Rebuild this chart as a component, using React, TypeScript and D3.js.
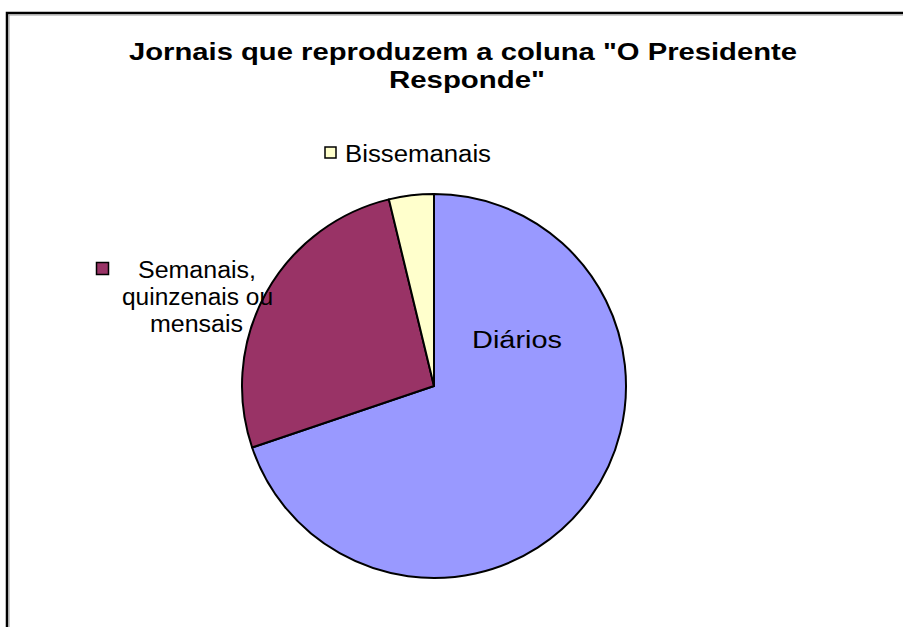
import React from "react";
import * as d3 from "d3";

// Chart data
const categories = ["Diários", "Semanais, quinzenais ou mensais", "Bissemanais"];
const values = [74, 28, 4];
const colors = ["#9999FF", "#993366", "#FFFFCC"];

const titleLines = ['Jornais que reproduzem a coluna "O Presidente', 'Responde"'];

const W = 903;
const H = 627;
const cx = 434;
const cy = 386;
const radius = 192;
const font = "'Liberation Sans', Arial, sans-serif";
const labelSize = 23;

interface Slice {
  name: string;
  value: number;
  color: string;
}

export default function App() {
  const data: Slice[] = categories.map((name, i) => ({
    name,
    value: values[i],
    color: colors[i],
  }));

  const pie = d3
    .pie<Slice>()
    .sort(null)
    .value((d) => d.value)
    .startAngle(0)
    .endAngle(2 * Math.PI);

  const arc = d3.arc<d3.PieArcDatum<Slice>>().innerRadius(0).outerRadius(radius);
  const arcs = pie(data);

  return (
    <svg
      width={W}
      height={H}
      style={{ position: "absolute", left: 0, top: 0, background: "#fff" }}
    >
      {/* chart frame, cut off by the window on the right and bottom */}
      <path d={`M7,${H + 5} V13 H${W + 5}`} fill="none" stroke="#000" strokeWidth={2.5} />
      <path d={`M9,${H + 5} V15 H${W + 5}`} fill="none" stroke="#999" strokeWidth={1} />

      {/* title */}
      <text
        x={463}
        y={60}
        textAnchor="middle"
        fontFamily={font}
        fontWeight="bold"
        fontSize={24}
        textLength={668}
        lengthAdjust="spacingAndGlyphs"
      >
        {titleLines[0]}
      </text>
      <text
        x={467}
        y={88}
        textAnchor="middle"
        fontFamily={font}
        fontWeight="bold"
        fontSize={24}
        textLength={156}
        lengthAdjust="spacingAndGlyphs"
      >
        {titleLines[1]}
      </text>

      {/* pie */}
      <g transform={`translate(${cx},${cy})`}>
        {arcs.map((a, i) => (
          <path
            key={i}
            d={arc(a) || ""}
            fill={a.data.color}
            stroke="#000"
            strokeWidth={2}
            strokeLinejoin="round"
          />
        ))}
      </g>

      {/* Diários label inside the slice */}
      <text
        x={472}
        y={348}
        fontFamily={font}
        fontSize={labelSize}
        textLength={90}
        lengthAdjust="spacingAndGlyphs"
      >
        {categories[0]}
      </text>

      {/* Semanais label with legend key */}
      <rect x={96.5} y={262.5} width={12} height={12} fill={colors[1]} stroke="#000" strokeWidth={1.5} />
      <text x={138} y={278} fontFamily={font} fontSize={labelSize} textLength={118} lengthAdjust="spacingAndGlyphs">
        Semanais,
      </text>
      <text x={122} y={305} fontFamily={font} fontSize={labelSize} textLength={151} lengthAdjust="spacingAndGlyphs">
        quinzenais ou
      </text>
      <text x={150} y={332} fontFamily={font} fontSize={labelSize} textLength={93} lengthAdjust="spacingAndGlyphs">
        mensais
      </text>

      {/* Bissemanais label with legend key */}
      <rect x={325} y={147} width={11} height={11} fill={colors[2]} stroke="#000" strokeWidth={1.5} />
      <text x={345} y={162} fontFamily={font} fontSize={labelSize} textLength={146} lengthAdjust="spacingAndGlyphs">
        {categories[2]}
      </text>
    </svg>
  );
}
